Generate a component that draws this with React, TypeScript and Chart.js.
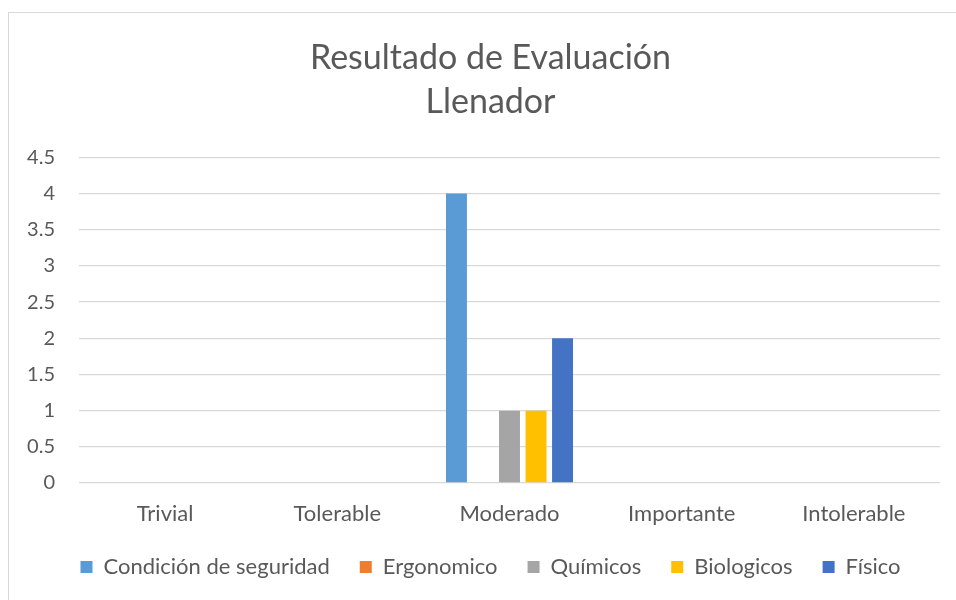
import React, { useEffect, useRef } from "react";
import { Chart, registerables } from "chart.js";

Chart.register(...registerables);

const titleLines = ["Resultado de Evaluación", "Llenador"];
const categories = ["Trivial", "Tolerable", "Moderado", "Importante", "Intolerable"];
const seriesNames = ["Condición de seguridad", "Ergonomico", "Químicos", "Biologicos", "Físico"];
const seriesColors = ["#5B9BD5", "#ED7D31", "#A5A5A5", "#FFC000", "#4472C4"];
const condicionSeguridad = [0, 0, 4, 0, 0];
const ergonomico = [0, 0, 0, 0, 0];
const quimicos = [0, 0, 1, 0, 0];
const biologicos = [0, 0, 1, 0, 0];
const fisico = [0, 0, 2, 0, 0];
const seriesValues = [condicionSeguridad, ergonomico, quimicos, biologicos, fisico];
const yMin = 0;
const yMax = 4.5;
const yStep = 0.5;

const FONT = "Lato, 'Open Sans', sans-serif";
const TEXT = "#595959";

// Let tick labels draw outside their (fixed-size) axis boxes instead of being clipped.
const unclipLabels = {
  id: "unclipLabels",
  beforeDraw(chart: any) {
    Object.values(chart.scales).forEach((s: any) => {
      s._computeLabelArea = () => undefined;
    });
  },
};

export default function App() {
  const ref = useRef<HTMLCanvasElement | null>(null);

  useEffect(() => {
    if (!ref.current) return;
    const chart = new Chart(ref.current, {
      type: "bar",
      data: {
        labels: categories,
        datasets: seriesNames.map((name, i) => ({
          label: name,
          data: seriesValues[i],
          backgroundColor: seriesColors[i],
          borderWidth: 0,
          barPercentage: 0.79,
          categoryPercentage: 0.77,
        })),
      },
      plugins: [unclipLabels],
      options: {
        animation: false,
        responsive: false,
        maintainAspectRatio: false,
        layout: { padding: { left: 32, right: 29, top: 0, bottom: 0 } },
        plugins: {
          tooltip: { enabled: false },
          title: {
            display: true,
            text: titleLines,
            color: TEXT,
            font: { family: FONT, size: 34, weight: "normal", lineHeight: 1.3 },
            padding: { top: 23, bottom: 33 },
          },
          legend: {
            position: "bottom",
            labels: {
              color: TEXT,
              font: { family: FONT, size: 22 },
              boxWidth: 12,
              boxHeight: 12,
              padding: 30,
            },
          },
        },
        scales: {
          x: {
            grid: { display: false, drawTicks: false },
            border: { display: false },
            ticks: { color: TEXT, font: { family: FONT, size: 22 }, padding: 18 },
            afterFit: (axis: any) => {
              axis.height = 43;
            },
          },
          y: {
            min: yMin,
            max: yMax,
            grid: { color: "#d9d9d9", lineWidth: 1.3, drawTicks: false },
            border: { display: false },
            ticks: {
              stepSize: yStep,
              color: TEXT,
              font: { family: FONT, size: 20 },
              padding: 24,
              callback: (v: any) => String(v),
            },
            afterFit: (axis: any) => {
              axis.width = 38;
            },
          },
        },
      },
    });
    return () => chart.destroy();
  }, []);

  return (
    <div
      style={{
        position: "fixed",
        left: 8,
        top: 12,
        width: 960,
        height: 600,
        border: "1px solid #d9d9d9",
        background: "#fff",
      }}
    >
      <canvas ref={ref} width={960} height={575} style={{ display: "block" }} />
    </div>
  );
}
